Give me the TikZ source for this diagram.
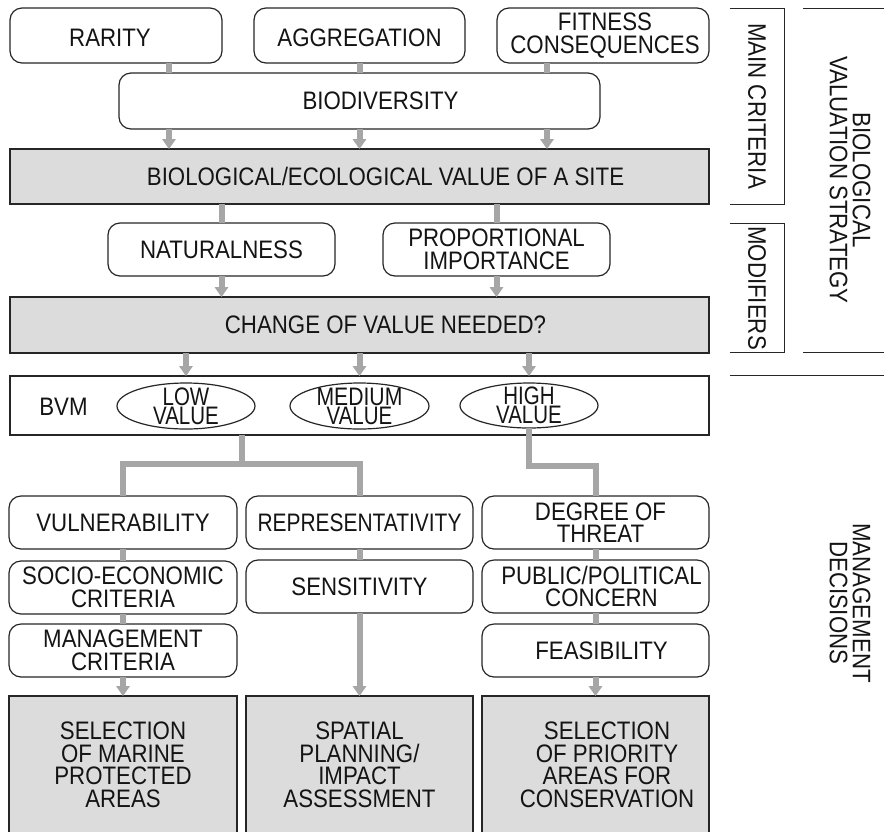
\documentclass[tikz,border=0pt]{standalone}
\usepackage{fontspec}
\usepackage{graphicx}
\setmainfont{Liberation Sans}[FakeStretch=0.88]
\usetikzlibrary{shapes.geometric,arrows.meta}
\definecolor{boxgray}{HTML}{DCDCDC}
\definecolor{conn}{HTML}{A6A6A6}
\definecolor{edge}{HTML}{262626}
\definecolor{ink}{HTML}{141414}
\begin{document}
\begin{tikzpicture}[x=1pt,y=-1pt,
  every node/.style={font=\fontsize{25.3}{22.5}\selectfont, text=ink, inner sep=0pt, outer sep=0pt, align=center},
  rbox/.style={draw=edge, line width=1.2pt, rounded corners=12pt, fill=white},
  gbox/.style={draw=edge, line width=1.2pt, fill=boxgray},
  wbox/.style={draw=edge, line width=1.2pt, fill=white},
  ell/.style={ellipse, draw=edge, line width=1.2pt, fill=white},
  elt/.style={font=\fontsize{25.3}{19}\selectfont},
  cl/.style={draw=conn, line width=6pt, line join=miter},
  ca/.style={cl, -{Triangle[width=14pt,length=10pt,line width=0pt]}},
  brk/.style={draw=edge, line width=1pt},
  side/.style={rotate=-90, font=\fontsize{25.3}{23}\selectfont}
]
\useasboundingbox (0,0) rectangle (884,831);
\clip (0,0) rectangle (884,831);

% top row
\node[rbox, minimum width=212pt, minimum height=55pt,
  label={[xshift=-6pt,yshift=-2pt]center:RARITY}] (rar) at (116,35.5) {};
\node[rbox, minimum width=211pt, minimum height=55pt,
  label={[yshift=-2pt]center:AGGREGATION}] (agg) at (359.5,35.5) {};
\node[rbox, minimum width=212pt, minimum height=55pt,
  label={[xshift=2pt]center:{FITNESS\\CONSEQUENCES}}] (fit) at (603,35.5) {};
\node[rbox, minimum width=481pt, minimum height=56pt,
  label={[xshift=21pt]center:BIODIVERSITY}] (bio) at (359.5,101) {};
\node[gbox, minimum width=699pt, minimum height=55pt,
  label={[xshift=26pt]center:BIOLOGICAL/ECOLOGICAL VALUE OF A SITE}] (val) at (359.5,176.5) {};

% modifiers
\node[rbox, minimum width=227pt, minimum height=53pt] (nat) at (221.5,249.5) {NATURALNESS};
\node[rbox, minimum width=227pt, minimum height=53pt] (prop) at (496.5,249.5) {PROPORTIONAL\\IMPORTANCE};
\node[gbox, minimum width=699pt, minimum height=56pt,
  label={[xshift=26pt]center:CHANGE OF VALUE NEEDED?}] (chg) at (359.5,325) {};

% BVM
\node[wbox, minimum width=699pt, minimum height=59pt] (bvm) at (359.5,405.5) {};
\node (bvmt) at (63.5,407) {BVM};
\node[ell, minimum width=138pt, minimum height=46pt,
  label={[elt]center:{\scalebox{0.92}[1]{LOW}\\\scalebox{0.92}[1]{VALUE}}}] (low) at (186,406) {};
\node[ell, minimum width=139pt, minimum height=46pt,
  label={[elt]center:{\scalebox{0.95}[1]{MEDIUM}\\\scalebox{0.92}[1]{VALUE}}}] (med) at (359.5,406) {};
\node[ell, minimum width=138pt, minimum height=45pt,
  label={[elt]center:{\scalebox{0.92}[1]{HIGH}\\\scalebox{0.92}[1]{VALUE}}}] (high) at (529,405.5) {};

% management columns
\node[rbox, minimum width=228pt, minimum height=53pt] (vul) at (123,522.5) {VULNERABILITY};
\node[rbox, minimum width=228pt, minimum height=53pt] (soc) at (123,587.5) {SOCIO-ECONOMIC\\CRITERIA};
\node[rbox, minimum width=228pt, minimum height=53pt] (man) at (123,650.5) {MANAGEMENT\\CRITERIA};
\node[rbox, minimum width=227pt, minimum height=53pt] (rep) at (359.5,522.5) {\scalebox{0.94}[1]{REPRESENTATIVITY}};
\node[rbox, minimum width=227pt, minimum height=53pt] (sen) at (359.5,586.5) {SENSITIVITY};
\node[rbox, minimum width=227pt, minimum height=53pt,
  label={[xshift=5pt]center:{DEGREE OF\\THREAT}}] (deg) at (595.5,522.5) {};
\node[rbox, minimum width=227pt, minimum height=53pt,
  label={[xshift=6pt]center:{PUBLIC/POLITICAL\\CONCERN}}] (pub) at (595.5,586.5) {};
\node[rbox, minimum width=227pt, minimum height=53pt,
  label={[xshift=6pt]center:FEASIBILITY}] (fea) at (595.5,650.5) {};

\node[gbox, anchor=north, minimum width=228pt, minimum height=138pt] (sel1) at (123,696) {SELECTION\\OF MARINE\\PROTECTED\\AREAS};
\node[gbox, anchor=north, minimum width=227pt, minimum height=138pt] (sel2) at (359.5,696) {SPATIAL\\PLANNING/\\IMPACT\\ASSESSMENT};
\node[gbox, anchor=north, minimum width=227pt, minimum height=138pt,
  label={[xshift=11.5pt]center:{SELECTION\\OF PRIORITY\\AREAS FOR\\CONSERVATION}}] (sel3) at (595.5,696) {};

% connectors top
\foreach \xx/\src in {169/rar,359.5/agg,547/fit}{
  \draw[cl] (\xx,0 |- \src.south) -- (\xx,0 |- bio.north);
  \draw[ca] (\xx,0 |- bio.south) -- (\xx,0 |- val.north);
}
\draw[cl] (val.south -| nat.north) -- (nat.north);
\draw[cl] (val.south -| prop.north) -- (prop.north);
\draw[ca] (nat.south) -- (nat.south |- chg.north);
\draw[ca] (prop.south) -- (prop.south |- chg.north);
\draw[ca] (chg.south -| low.center) -- (bvm.north -| low.center);
\draw[ca] (chg.south -| med.center) -- (bvm.north -| med.center);
\draw[ca] (chg.south -| high.center) -- (bvm.north -| high.center);

% branches
\coordinate (lowsplit) at (242,464);
\draw[cl] (lowsplit |- bvm.south) -- (lowsplit);
\draw[cl] (vul.north) -- (vul.north |- lowsplit) -- (rep.north |- lowsplit) -- (rep.north);
\coordinate (highturn) at (529,466);
\draw[cl] (high.south) -- (high.south |- highturn) -- (deg.north |- highturn) -- (deg.north);

\draw[cl] (vul.south) -- (soc.north);
\draw[cl] (soc.south) -- (man.north);
\draw[ca] (man.south) -- (sel1.north);
\draw[cl] (rep.south) -- (sen.north);
\draw[ca] (sen.south) -- (sel2.north);
\draw[cl] (deg.south) -- (pub.north);
\draw[cl] (pub.south) -- (fea.north);
\draw[ca] (fea.south) -- (sel3.north);

% side brackets
\draw[brk] (730,8) -- (784,8) -- (784,204) -- (730,204);
\draw[brk] (730,223) -- (784,223) -- (784,352) -- (730,352);
\draw[brk] (803,8) -- (884,8);
\draw[brk] (803,352) -- (884,352);
\draw[brk] (730,375) -- (884,375);
\node[side] (mc) at (757,106) {MAIN CRITERIA};
\node[side] (mod) at (757,288) {MODIFIERS};
\node[side] (bvs) at (850,180) {BIOLOGICAL\\VALUATION STRATEGY};
\node[side] (md) at (850,603) {MANAGEMENT\\DECISIONS};
\end{tikzpicture}
\end{document}
